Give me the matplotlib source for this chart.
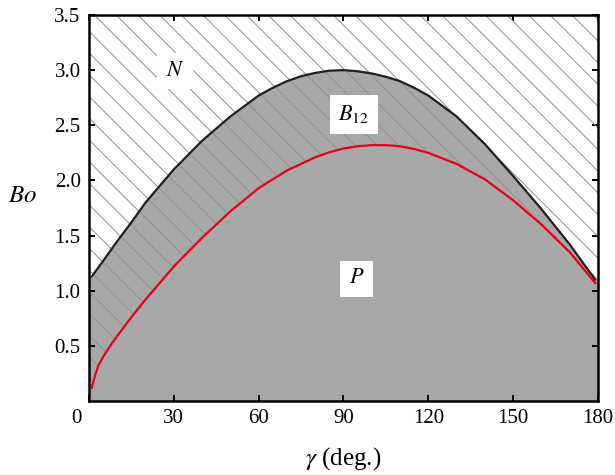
import numpy as np
import matplotlib
matplotlib.use("Agg")
import matplotlib.pyplot as plt
from matplotlib.collections import LineCollection
from matplotlib.transforms import ScaledTranslation

plt.rcParams['font.family'] = ['Liberation Serif', 'DejaVu Serif']
plt.rcParams['mathtext.fontset'] = 'stix'

# upper boundary (black) - Bo vs contact angle
gamma_black = [1, 5, 10, 15, 20, 30, 40, 50, 60, 65, 70, 75, 80, 85, 90, 95, 100, 105, 110, 115, 120, 130, 140, 150, 160, 170, 179]
bo_black = [1.13, 1.27, 1.45, 1.62, 1.80, 2.10, 2.36, 2.58, 2.77, 2.84, 2.90, 2.945, 2.975, 2.995, 3.00, 2.99, 2.97, 2.94, 2.90, 2.84, 2.77, 2.58, 2.33, 2.04, 1.74, 1.42, 1.10]

# lower boundary (red)
gamma_red = [1, 2, 3.3, 5, 7.5, 10, 15, 20, 25, 30, 35, 40, 50, 60, 70, 80, 85, 90, 95, 100, 105, 110, 115, 120, 130, 140, 150, 160, 170, 179]
bo_red = [0.12, 0.22, 0.32, 0.40, 0.50, 0.59, 0.76, 0.92, 1.07, 1.22, 1.35, 1.48, 1.72, 1.93, 2.09, 2.21, 2.255, 2.29, 2.31, 2.32, 2.32, 2.31, 2.285, 2.25, 2.15, 2.01, 1.82, 1.60, 1.35, 1.07]

xticks = [0, 30, 60, 90, 120, 150, 180]
yticks = [0.5, 1.0, 1.5, 2.0, 2.5, 3.0, 3.5]

# region labels: (text, gamma, Bo)
labels = [(r'$N$', 30.5, 2.99), (r'$B_{12}$', 93.7, 2.60), (r'$P$', 94.6, 1.11)]

fig = plt.figure(figsize=(6.15, 4.75), dpi=100)
ax = fig.add_axes([0.1447, 0.1558, 0.8276, 0.8126])

xb = np.concatenate([[0], gamma_black, [180]])
yb = np.concatenate([[bo_black[0]], bo_black, [bo_black[-1]]])
xr = np.concatenate([[0], gamma_red, [180]])
yr = np.concatenate([[bo_red[0]], bo_red, [bo_red[-1]]])

ax.fill_between(xb, 0, yb, facecolor='#a8a8a8', linewidth=0, zorder=1)

# hatched region above the red curve: diagonal lines (in inches) clipped to it
hatch_region = ax.fill_between(xr, yr, 3.5, facecolor='none', linewidth=0, zorder=2)
spacing = 0.217
offsets = 8.80 + spacing * np.arange(-45, 20)
segs = [[(c, 0), (c - 6, 6)] for c in offsets]
lc = LineCollection(segs, colors='#909090', linewidths=0.7, transform=fig.dpi_scale_trans, zorder=2)
ax.add_collection(lc, autolim=False)
lc.set_clip_path(hatch_region.get_paths()[0], ax.transData)

ax.plot(gamma_black, bo_black, color='#231f20', lw=1.6, zorder=3)
ax.plot(gamma_red, bo_red, color='#e8001a', lw=1.6, zorder=3)

for txt, gx, gy in labels:
    ax.text(gx, gy, txt, fontsize=16, ha='center', va='center', zorder=4,
            bbox=dict(facecolor='white', edgecolor='none', pad=6))

ax.set_xlim(0, 180)
ax.set_ylim(0, 3.5)
ax.set_xticks(xticks)
ax.set_yticks(yticks)
ax.set_xticklabels([str(v) for v in xticks])
ax.set_yticklabels(['%.1f' % v for v in yticks])
ax.tick_params(direction='in', top=True, right=True, length=4, width=1.4, labelsize=15, pad=6)
for s in ax.spines.values():
    s.set_linewidth(1.8)

# the "0" sits a bit left of the corner in the original
lab0 = ax.get_xticklabels()[0]
lab0.set_transform(lab0.get_transform() + ScaledTranslation(-0.13, 0, fig.dpi_scale_trans))

ax.set_xlabel(r'$\gamma$ (deg.)', fontsize=18, labelpad=12)
ax.set_ylabel(r'$Bo$', fontsize=18, rotation=0)
ax.yaxis.set_label_coords(-0.13, 0.503)

fig.savefig('out.png', dpi=100)
